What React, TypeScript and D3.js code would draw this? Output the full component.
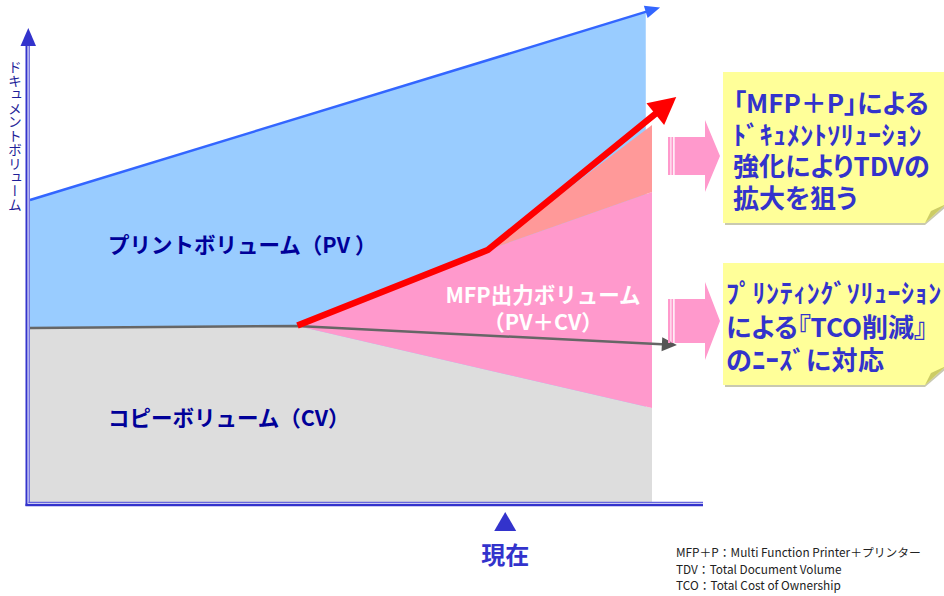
import React from 'react';
import * as d3 from 'd3';

const W = 944;
const H = 596;

// Time runs 0..100 across the plot (100 = planning horizon); volume 0..100 up the axis.
type Pt = { t: number; v: number };

const pvTrend: Pt[] = [
  { t: 0, v: 60.4 },
  { t: 101.3, v: 98.9 },
];
const pvAreaEnd = 99;

const cvTrend: Pt[] = [
  { t: 0, v: 34.8 },
  { t: 43, v: 35.2 },
  { t: 104, v: 31.4 },
];

const mfpTrend: Pt[] = [
  { t: 43, v: 35.3 },
  { t: 73.6, v: 50.4 },
  { t: 103.9, v: 81 },
];

const mfpWedge: Pt[] = [
  { t: 43, v: 35.2 },
  { t: 73.6, v: 50.4 },
  { t: 100, v: 62 },
  { t: 100, v: 18.8 },
];

const solutionWedge: Pt[] = [
  { t: 73.6, v: 50.4 },
  { t: 100, v: 75.4 },
  { t: 100, v: 62 },
];

const copyArea: Pt[] = [
  { t: 0, v: 34.8 },
  { t: 43, v: 35.2 },
  { t: 100, v: 18.8 },
  { t: 100, v: 0 },
  { t: 0, v: 0 },
];

const nowT = 76.4;

const yAxisTitle = 'ドキュメントボリューム';
const pvLabel = 'プリントボリューム（PV ）';
const cvLabel = 'コピーボリューム（CV）';
const mfpLabel = ['MFP出力ボリューム', '（PV＋CV）'];
const nowLabel = '現在';

const callout1 = ['「MFP＋P」による', 'ﾄﾞｷｭﾒﾝﾄｿﾘｭｰｼｮﾝ', '強化によりTDVの', '拡大を狙う'];
const callout2 = ['ﾌﾟﾘﾝﾃｨﾝｸﾞｿﾘｭｰｼｮﾝ', 'による『TCO削減』', 'のﾆｰｽﾞに対応'];
const footnotes = [
  'MFP＋P：Multi Function Printer＋プリンター',
  'TDV：Total Document Volume',
  'TCO：Total Cost of Ownership',
];

const x = d3.scaleLinear().domain([0, 100]).range([30, 652]);
const y = d3.scaleLinear().domain([0, 100]).range([502, 2]);

const line = d3
  .line<Pt>()
  .x((d) => x(d.t))
  .y((d) => y(d.v));
const poly = (pts: Pt[]) => line(pts) + 'Z';

function arrowHead(pts: Pt[], len: number, half: number): string {
  const a = pts[pts.length - 2];
  const b = pts[pts.length - 1];
  const x0 = x(a.t), y0 = y(a.v), x1 = x(b.t), y1 = y(b.v);
  const L = Math.hypot(x1 - x0, y1 - y0);
  const ux = (x1 - x0) / L, uy = (y1 - y0) / L;
  const bx = x1 - ux * len, by = y1 - uy * len;
  const px = -uy, py = ux;
  return `${x1},${y1} ${bx + px * half},${by + py * half} ${bx - px * half},${by - py * half}`;
}

// shorten the last segment so the stroke ends inside the head
function trimEnd(pts: Pt[], len: number): Pt[] {
  const a = pts[pts.length - 2];
  const b = pts[pts.length - 1];
  const x0 = x(a.t), y0 = y(a.v), x1 = x(b.t), y1 = y(b.v);
  const L = Math.hypot(x1 - x0, y1 - y0);
  const k = (L - len) / L;
  const end = { t: a.t + (b.t - a.t) * k, v: a.v + (b.v - a.v) * k };
  return [...pts.slice(0, -1), end];
}

const pvAt = d3
  .scaleLinear()
  .domain(pvTrend.map((d) => d.t))
  .range(pvTrend.map((d) => d.v));
const pvArea: Pt[] = [
  { t: 0, v: pvTrend[0].v },
  { t: pvAreaEnd, v: pvAt(pvAreaEnd) },
  { t: pvAreaEnd, v: 0 },
  { t: 0, v: 0 },
];

const jpFont = "'Noto Sans CJK JP', 'Noto Sans', sans-serif";
const halfKana = /[\uFF61-\uFF9F]/;

function StripedArrow({ cy, body, head }: { cy: number; body: number; head: number }) {
  const x0 = 668, xb = 705, tip = 720;
  const fill = '#ff99cc';
  return (
    <g>
      <rect x={x0} y={cy - body} width={2.4} height={body * 2} fill={fill} />
      <rect x={x0 + 3.4} y={cy - body} width={1.8} height={body * 2} fill={fill} />
      <polygon
        points={`${x0 + 6.6},${cy - body} ${xb},${cy - body} ${xb},${cy - head} ${tip},${cy} ${xb},${cy + head} ${xb},${cy + body} ${x0 + 6.6},${cy + body}`}
        fill={fill}
      />
    </g>
  );
}

function Note({ top, bottom, lines, tx, base, lh }: { top: number; bottom: number; lines: string[]; tx: number; base: number; lh: number }) {
  const l = 723, r = 946;
  return (
    <g>
      <polygon
        points={`${l + 2},${top + 2} ${r},${top + 2} ${r},${bottom - 16} ${925},${bottom + 2} ${l + 2},${bottom + 2}`}
        fill="#c9c9b0"
      />
      <polygon
        points={`${l},${top} ${r},${top} ${r},${bottom - 19} ${925},${bottom} ${l},${bottom}`}
        fill="#ffff99"
      />
      <polygon points={`${925},${bottom} ${r},${bottom - 19} ${931},${bottom - 12}`} fill="#cccc66" />
      {lines.map((s, i) => (
        <text
          key={i}
          x={tx}
          y={base + i * lh}
          fontFamily={jpFont}
          fontWeight={700}
          fontSize={26}
          fill="#3333cc"
          letterSpacing={halfKana.test(s) ? 0.55 : 0}
          style={{ fontFeatureSettings: '"palt" 1' }}
        >
          {s}
        </text>
      ))}
    </g>
  );
}

export default function App() {
  const axisDark = '#3333cc';
  const axisLight = '#6666dd';
  const nowX = x(nowT);
  return (
    <svg
      width={W}
      height={H}
      viewBox={`0 0 ${W} ${H}`}
      style={{ position: 'absolute', left: 0, top: 0, background: '#fff' }}
    >
      {/* stacked volume regions */}
      <path d={poly(pvArea)} fill="#99ccff" />
      <path d={poly(copyArea)} fill="#dddddd" />
      <path d={poly(mfpWedge)} fill="#ff99cc" />
      <path d={poly(solutionWedge)} fill="#ff9999" />

      {/* total document volume trend */}
      <path d={line(trimEnd(pvTrend, 10)) ?? ''} fill="none" stroke="#3366ff" strokeWidth={2.5} />
      <polygon points={arrowHead(pvTrend, 15, 6.5)} fill="#3366ff" />

      {/* copy volume trend */}
      <path d={line(trimEnd(cvTrend, 10)) ?? ''} fill="none" stroke="#666666" strokeWidth={2.5} />
      <polygon points={arrowHead(cvTrend, 15, 7)} fill="#555555" />

      {/* MFP output trend */}
      <path
        d={line(trimEnd(mfpTrend, 18)) ?? ''}
        fill="none"
        stroke="#ff0000"
        strokeWidth={6.5}
        strokeLinejoin="miter"
      />
      <polygon points={arrowHead(mfpTrend, 27, 14)} fill="#ff0000" />

      {/* axes */}
      <line x1={26.5} y1={506} x2={26.5} y2={44} stroke={axisDark} strokeWidth={2} />
      <line x1={29.2} y1={503} x2={29.2} y2={44} stroke={axisLight} strokeWidth={1.4} />
      <line x1={25.5} y1={505} x2={703} y2={505} stroke={axisDark} strokeWidth={2.4} />
      <line x1={28.5} y1={502.3} x2={703} y2={502.3} stroke={axisLight} strokeWidth={1.2} />
      <polygon points="28.3,28 20.5,46 36,46" fill={axisDark} />

      <text
        x={15}
        y={60}
        fontFamily={jpFont}
        fontSize={13.8}
        fill="#1f1f99"
        style={{ writingMode: 'vertical-rl', textOrientation: 'upright' } as React.CSSProperties}
      >
        {yAxisTitle}
      </text>

      {/* region labels */}
      <text x={108} y={253} fontFamily={jpFont} fontWeight={700} fontSize={21.5} fill="#000099">
        {pvLabel}
      </text>
      <text x={108} y={426} fontFamily={jpFont} fontWeight={700} fontSize={21.5} fill="#000099">
        {cvLabel}
      </text>
      {mfpLabel.map((s, i) => (
        <text
          key={i}
          x={543}
          y={303 + i * 27}
          textAnchor="middle"
          fontFamily={jpFont}
          fontWeight={700}
          fontSize={21.5}
          fill="#ffffff"
        >
          {s}
        </text>
      ))}

      {/* present marker */}
      <polygon points={`${nowX},512 ${nowX - 11},531 ${nowX + 11},531`} fill="#3333cc" />
      <text x={nowX} y={564} textAnchor="middle" fontFamily={jpFont} fontWeight={700} fontSize={24} fill="#3333cc">
        {nowLabel}
      </text>

      {/* callouts */}
      <StripedArrow cy={156} body={19} head={36} />
      <StripedArrow cy={321} body={22} head={39} />
      <Note top={72} bottom={223} lines={callout1} tx={733} base={113} lh={31.7} />
      <Note top={263} bottom={385} lines={callout2} tx={726} base={303} lh={33.5} />

      {/* footnotes */}
      {footnotes.map((s, i) => (
        <text key={i} x={676} y={557 + i * 16.5} fontFamily={jpFont} fontSize={11.8} fill="#222222">
          {s}
        </text>
      ))}
    </svg>
  );
}
